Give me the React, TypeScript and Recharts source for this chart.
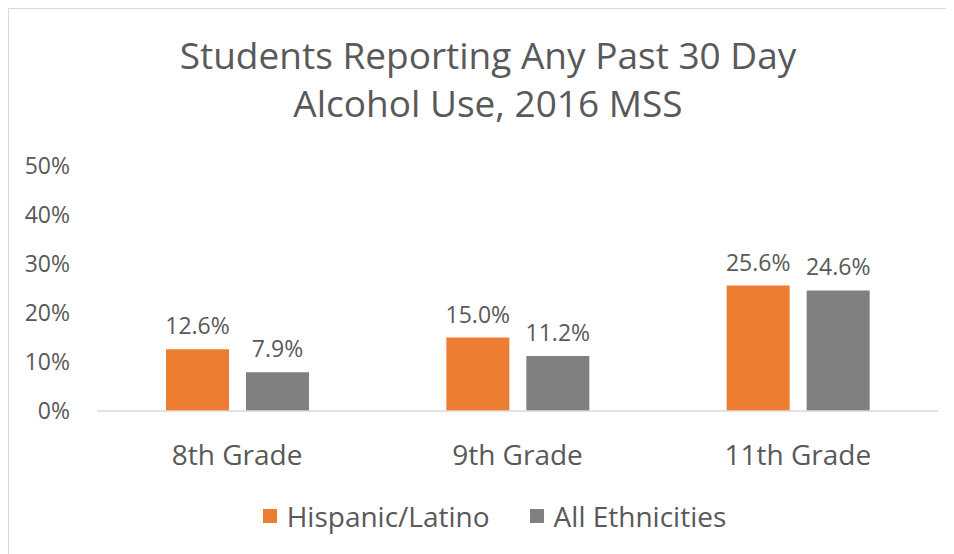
import { Bar, BarChart, LabelList, Legend, XAxis, YAxis } from "recharts";

const grades = ["8th Grade", "9th Grade", "11th Grade"];
const hispanicLatino = [12.6, 15.0, 25.6];
const allEthnicities = [7.9, 11.2, 24.6];
const yTicks = [0, 10, 20, 30, 40, 50];

const seriesNames = ["Hispanic/Latino", "All Ethnicities"];
const seriesColors = ["#ED7D31", "#808080"];

const data = grades.map((grade, i) => ({
  grade,
  hispanic: hispanicLatino[i],
  all: allEthnicities[i],
}));

const FONT = '"Open Sans", sans-serif';
const TEXT = "#595959";

function LegendRow() {
  return (
    <div
      style={{
        display: "flex",
        justifyContent: "center",
        alignItems: "center",
        gap: 40,
        fontFamily: FONT,
        fontSize: 28,
        color: TEXT,
      }}
    >
      {seriesNames.map((name, i) => (
        <div key={name} style={{ display: "flex", alignItems: "center" }}>
          <span
            style={{
              width: 14,
              height: 14,
              background: seriesColors[i],
              marginRight: 10,
              display: "inline-block",
            }}
          />
          <span>{name}</span>
        </div>
      ))}
    </div>
  );
}

export default function App() {
  const pct = (v: number) => `${v.toFixed(1)}%`;
  return (
    <div
      style={{
        position: "relative",
        width: 946,
        height: 546,
        borderTop: "1px solid #d9d9d9",
        borderLeft: "1px solid #d9d9d9",
        background: "#fff",
      }}
    >
      <div
        style={{
          position: "absolute",
          left: 0,
          width: 958,
          top: 22,
          textAlign: "center",
          fontFamily: FONT,
          fontSize: 37,
          lineHeight: "48px",
          color: TEXT,
        }}
      >
        Students Reporting Any Past 30 Day
        <br />
        Alcohol Use, 2016 MSS
      </div>
      <BarChart
        width={945}
        height={545}
        data={data}
        margin={{ top: 157, right: 16, bottom: 83, left: 8 }}
        barSize={63}
        barGap={17}
      >
        <XAxis
          dataKey="grade"
          height={60}
          tickLine={false}
          axisLine={{ stroke: "#d9d9d9", strokeWidth: 1.5 }}
          tick={{ fill: TEXT, fontSize: 28, fontFamily: FONT }}
          tickMargin={28}
        />
        <YAxis
          width={80}
          domain={[0, 50]}
          ticks={yTicks}
          tickFormatter={(v: number) => `${v}%`}
          axisLine={false}
          tickLine={false}
          tickMargin={21}
          tick={{ fill: TEXT, fontSize: 23, fontFamily: FONT }}
        />
        <Legend
          verticalAlign="middle"
          align="center"
          wrapperStyle={{ top: 488, left: 13, width: 945 }}
          content={() => <LegendRow />}
        />
        <Bar dataKey="hispanic" name={seriesNames[0]} fill={seriesColors[0]} isAnimationActive={false}>
          <LabelList
            dataKey="hispanic"
            position="top"
            offset={15}
            formatter={(v: number) => pct(v)}
            style={{ fill: TEXT, fontSize: 23, fontFamily: FONT }}
          />
        </Bar>
        <Bar dataKey="all" name={seriesNames[1]} fill={seriesColors[1]} isAnimationActive={false}>
          <LabelList
            dataKey="all"
            position="top"
            offset={15}
            formatter={(v: number) => pct(v)}
            style={{ fill: TEXT, fontSize: 23, fontFamily: FONT }}
          />
        </Bar>
      </BarChart>
    </div>
  );
}
